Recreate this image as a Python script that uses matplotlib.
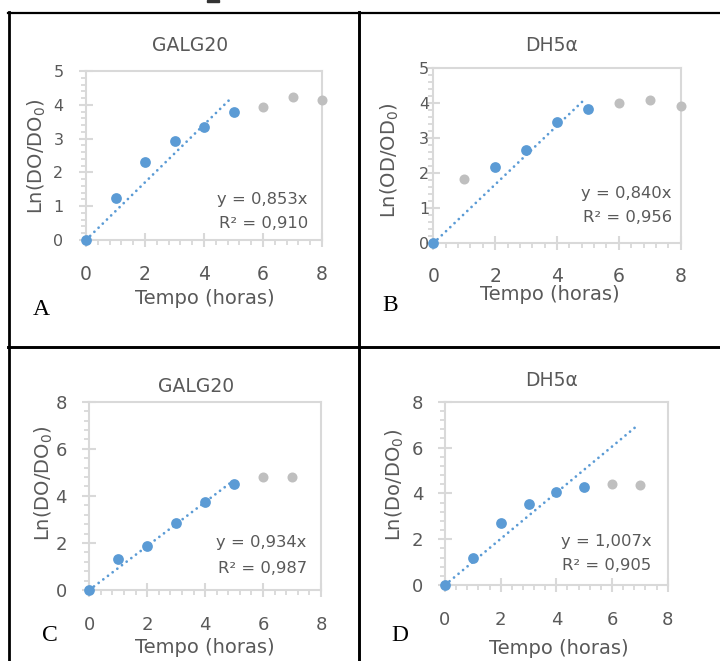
import numpy as np
import matplotlib
matplotlib.use("Agg")
import matplotlib.pyplot as plt
from matplotlib.lines import Line2D
from matplotlib.patches import Rectangle
from matplotlib.ticker import MultipleLocator

plt.rcParams['font.family'] = ['DejaVu Sans']
plt.rcParams['mathtext.fontset'] = 'dejavusans'

# data
hours_8 = [0, 1, 2, 3, 4, 5, 6, 7, 8]
hours_7 = [0, 1, 2, 3, 4, 5, 6, 7]

a_y = [0, 1.23, 2.31, 2.94, 3.33, 3.78, 3.93, 4.22, 4.15]
a_fit = [0, 1, 2, 3, 4, 5]          # points used in the fit (blue)
b_y = [0, 1.83, 2.17, 2.68, 3.47, 3.85, 4.00, 4.09, 3.92]
b_fit = [0, 2, 3, 4, 5]
c_y = [0, 1.32, 1.86, 2.86, 3.75, 4.50, 4.80, 4.82]
c_fit = [0, 1, 2, 3, 4, 5]
d_y = [0, 1.19, 2.71, 3.55, 4.04, 4.29, 4.41, 4.38]
d_fit = [0, 1, 2, 3, 4, 5]

slopes = [0.853, 0.840, 0.934, 1.007]
r2 = ["0,910", "0,956", "0,987", "0,905"]
slope_txt = ["0,853", "0,840", "0,934", "1,007"]
fit_end = [4.85, 4.85, 4.85, 6.85]

titles = ["GALG20", "DH5α", "GALG20", "DH5α"]
ylabels = ["Ln(DO/DO$_0$)", "Ln(OD/OD$_0$)", "Ln(DO/DO$_0$)", "Ln(Do/DO$_0$)"]
letters = ["A", "B", "C", "D"]

BLUE = "#5B9BD5"
GRAY = "#BFBFBF"
TXT = "#595959"
AX = "#D9D9D9"

W, H = 720, 661
fig = plt.figure(figsize=(W / 100, H / 100), dpi=100)


def px_box(l, r, t, b):
    return [l / W, 1 - b / H, (r - l) / W, (b - t) / H]


# per panel layout (pixel boxes + label positions in axes coords)
panels = [
    dict(box=px_box(86, 322, 71, 240), ymax=5, ymaj=1, ymin=0.2,
         title=(0.441, 1.148), xlab=(0.504, -0.345), ylab=(-0.209, 0.493),
         letter=(-0.188, -0.414), eq=(0.94, 0.237, 0.10),
         ypad=11, xpad=12.5, yfs=11.5, xfs=13.5, tfs=13.5, lfs=14, efs=11.8),
    dict(box=px_box(433.3, 680.7, 68.3, 243.3), ymax=5, ymaj=1, ymin=0.2,
         title=(0.479, 1.133), xlab=(0.472, -0.29), ylab=(-0.175, 0.476),
         letter=(-0.175, -0.353), eq=(0.964, 0.286, 0.149),
         ypad=-2.3, xpad=11.5, yfs=11.5, xfs=13.5, tfs=13.5, lfs=14, efs=11.8),
    dict(box=px_box(89.3, 321, 401.7, 590), ymax=8, ymaj=2, ymin=0.4,
         title=(0.461, 1.080), xlab=(0.499, -0.308), ylab=(-0.196, 0.568),
         letter=(-0.170, -0.239), eq=(0.938, 0.251, 0.115),
         ypad=10.9, xpad=13.3, yfs=13, xfs=13, tfs=13.5, lfs=14, efs=11.8),
    dict(box=px_box(445, 667.7, 401.7, 585), ymax=8, ymaj=2, ymin=0.4,
         title=(0.479, 1.118), xlab=(0.512, -0.344), ylab=(-0.225, 0.546),
         letter=(-0.202, -0.273), eq=(0.926, 0.236, 0.104),
         ypad=10.2, xpad=13.8, yfs=13, xfs=13, tfs=13.5, lfs=14, efs=11.8),
]

series = [
    (hours_8, a_y, a_fit, 8),
    (hours_8, b_y, b_fit, 8),
    (hours_7, c_y, c_fit, 8),
    (hours_7, d_y, d_fit, 8),
]

for i, (p, (xs, ys, fit, xmax)) in enumerate(zip(panels, series)):
    ax = fig.add_axes(p["box"])
    xs = np.array(xs)
    ys = np.array(ys)
    used = np.isin(xs, fit)

    # trendline through origin
    xe = np.array([0, fit_end[i]])
    ax.plot(xe, slopes[i] * xe, color=BLUE, lw=2.0, dashes=(0.01, 2.1),
            dash_capstyle='round', zorder=3, clip_on=False)
    ax.scatter(xs[~used], ys[~used], s=52, color=GRAY, zorder=4, clip_on=False,
               linewidths=0)
    ax.scatter(xs[used], ys[used], s=60, color=BLUE, zorder=5, clip_on=False,
               linewidths=0)

    ax.set_xlim(0, xmax)
    ax.set_ylim(0, p["ymax"])
    ax.xaxis.set_major_locator(MultipleLocator(2))
    ax.xaxis.set_minor_locator(MultipleLocator(0.4))
    ax.yaxis.set_major_locator(MultipleLocator(p["ymaj"]))
    ax.yaxis.set_minor_locator(MultipleLocator(p["ymin"]))

    for s in ax.spines.values():
        s.set_color(AX)
        s.set_linewidth(1.5)
    ax.tick_params(which='major', direction='inout', length=10.5, width=1.5,
                   color=AX, labelcolor=TXT)
    ax.tick_params(which='minor', direction='out', length=3.6, width=1.3,
                   color=AX)
    ax.tick_params(axis='y', which='major', pad=p["ypad"], labelsize=p["yfs"])
    ax.tick_params(axis='x', which='major', pad=p["xpad"], labelsize=p["xfs"])

    ax.set_title(titles[i], color=TXT, fontsize=p["tfs"], x=p["title"][0],
                 y=p["title"][1], va='center', pad=0)
    ax.set_xlabel("Tempo (horas)", color=TXT, fontsize=p["lfs"], va='center')
    ax.xaxis.set_label_coords(*p["xlab"])
    ax.set_ylabel(ylabels[i], color=TXT, fontsize=p["lfs"], va='center')
    ax.yaxis.set_label_coords(*p["ylab"])

    ex, ey1, ey2 = p["eq"]
    ax.text(ex, ey1, f"y = {slope_txt[i]}x", transform=ax.transAxes,
            ha='right', va='center', color=TXT, fontsize=p["efs"])
    ax.text(ex, ey2, f"R² = {r2[i]}", transform=ax.transAxes,
            ha='right', va='center', color=TXT, fontsize=p["efs"])

    ax.text(p["letter"][0], p["letter"][1], letters[i], transform=ax.transAxes,
            ha='center', va='center', fontsize=17, family='Liberation Serif',
            color='black')

# table lines around the panels
def hline(y, x0, x1, lw):
    fig.add_artist(Line2D([x0 / W, x1 / W], [1 - y / H, 1 - y / H], color='black',
                          lw=lw, transform=fig.transFigure))


def vline(x, y0, y1, lw):
    fig.add_artist(Line2D([x / W, x / W], [1 - y0 / H, 1 - y1 / H], color='black',
                          lw=lw, transform=fig.transFigure))


hline(13.3, 7.5, 720, 1.6)
hline(346.5, 7.5, 720, 2.1)
vline(8.7, 12.3, 661, 2.0)
vline(359.2, 12.3, 661, 2.1)
fig.add_artist(Rectangle((206.7 / W, 1 - 2 / H), 12.3 / W, 2 / H, color='#333333',
                         transform=fig.transFigure))

fig.savefig("out.png", dpi=100)
